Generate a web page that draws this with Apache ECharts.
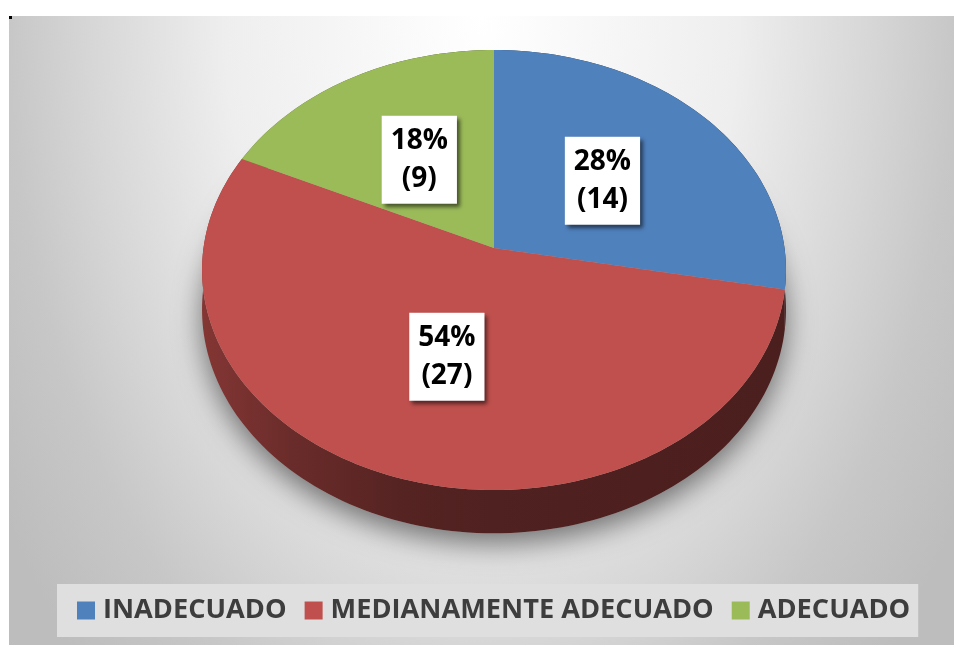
<!DOCTYPE html>
<html>
<head>
<meta charset="UTF-8">
<title>Pastel 3D</title>
<script src="https://cdn.jsdelivr.net/npm/echarts@6/dist/echarts.min.js"></script>
<style>
html, body { margin: 0; padding: 0; background: #ffffff; }
#main { width: 954px; height: 645px; }
</style>
</head>
<body>
<div id="main"></div>
<script>
// datos
var categories = ['INADECUADO', 'MEDIANAMENTE ADECUADO', 'ADECUADO'];
var counts = [14, 27, 9];
var sliceColors = ['#4f81bd', '#c0504d', '#9bbb59'];

var total = 0;
var starts = [];
for (var k = 0; k < counts.length; k++) {
    starts.push(total);
    total += counts[k];
}

// geometria del pastel 3D (perspectiva simple)
var CX = 494, CY = 248, RX = 290.5, RY = 217.8, PERSP = 0.1, DEPTH = 39;

function proj(r, ang, drop) {
    var u = r * Math.sin(ang), v = -r * Math.cos(ang);
    var s = 1 / (1 - PERSP * v);
    return [CX + RX * u * s, CY + RY * v * s + (drop ? DEPTH * s : 0)];
}

function arc(a0, a1, drop) {
    var n = Math.max(2, Math.ceil((a1 - a0) / (2 * Math.PI) * 240));
    var pts = [];
    for (var j = 0; j <= n; j++) {
        pts.push(proj(1, a0 + (a1 - a0) * j / n, drop));
    }
    return pts;
}

function shade(hex, f) {
    var n = parseInt(hex.slice(1), 16);
    var r = Math.round(((n >> 16) & 255) * f);
    var g = Math.round(((n >> 8) & 255) * f);
    var b = Math.round((n & 255) * f);
    return 'rgb(' + r + ',' + g + ',' + b + ')';
}

function renderSlice(params, api) {
    var i = params.seriesIndex;
    var v = api.value(0);
    var a0 = starts[i] / total * Math.PI * 2;
    var a1 = a0 + v / total * Math.PI * 2;
    var col = sliceColors[i];
    var children = [];

    if (i === 0) {
        // sombra bajo el pastel
        children.push({
            type: 'polygon',
            z2: 0,
            shape: { points: arc(0, Math.PI * 2, true) },
            style: {
                fill: '#a8a8a8',
                shadowColor: 'rgba(0,0,0,0.5)',
                shadowBlur: 28,
                shadowOffsetY: 10
            }
        });
    }

    // pared lateral
    var wallPts = arc(a0, a1, false).concat(arc(a0, a1, true).reverse());
    children.push({
        type: 'polygon',
        z2: 1,
        shape: { points: wallPts },
        style: {
            fill: new echarts.graphic.LinearGradient(CX - RX, 0, CX + RX, 0, [
                { offset: 0, color: shade(col, 0.68) },
                { offset: 0.15, color: shade(col, 0.55) },
                { offset: 0.35, color: shade(col, 0.44) },
                { offset: 0.5, color: shade(col, 0.41) },
                { offset: 1, color: shade(col, 0.39) }
            ], true)
        }
    });

    // cara superior
    children.push({
        type: 'polygon',
        z2: 10,
        shape: { points: [proj(0, 0, false)].concat(arc(a0, a1, false)) },
        style: { fill: col }
    });

    // etiqueta
    var mid = (a0 + a1) / 2;
    var lp = proj(0.5, mid, false);
    children.push({
        type: 'text',
        z2: 30,
        x: lp[0],
        y: lp[1],
        style: {
            text: Math.round(v / total * 100) + '%\n(' + v + ')',
            fill: '#000000',
            font: 'bold 28px "Open Sans"',
            align: 'center',
            verticalAlign: 'middle',
            lineHeight: 38,
            backgroundColor: '#ffffff',
            padding: [6, 9, 6, 9],
            shadowColor: 'rgba(0,0,0,0.55)',
            shadowBlur: 4,
            shadowOffsetX: 3,
            shadowOffsetY: 3
        }
    });

    return { type: 'group', children: children };
}

var chart = echarts.init(document.getElementById('main'), null, { renderer: 'canvas' });

var series = [];
for (var i = 0; i < categories.length; i++) {
    series.push({
        type: 'custom',
        name: categories[i],
        coordinateSystem: 'none',
        data: [[counts[i]]],
        itemStyle: { color: sliceColors[i] },
        renderItem: renderSlice
    });
}

var option = {
    animation: false,
    graphic: [
        {
            type: 'rect',
            x: 9,
            y: 16,
            z: -10,
            scaleY: 1.6,
            shape: { width: 945, height: 629 / 1.6 },
            style: {
                fill: new echarts.graphic.RadialGradient(0.5, 0, 1.45, [
                    { offset: 0, color: '#ffffff' },
                    { offset: 0.45, color: '#eeeeee' },
                    { offset: 0.69, color: '#d6d6d6' },
                    { offset: 0.83, color: '#c7c7c7' },
                    { offset: 1, color: '#bdbdbd' }
                ])
            }
        },
        {
            type: 'rect',
            x: 9,
            y: 16,
            z: 5,
            shape: { width: 3, height: 3 },
            style: { fill: '#000000' }
        }
    ],
    legend: {
        left: 57,
        top: 584,
        padding: [13, 8, 13, 20],
        itemWidth: 18,
        itemHeight: 18,
        itemGap: 18,
        icon: 'rect',
        selectedMode: false,
        backgroundColor: '#dfdfdf',
        textStyle: {
            fontFamily: 'Open Sans',
            fontWeight: 'bold',
            fontSize: 27.2,
            color: '#3d3d3d',
            padding: [0, 0, 0, 3]
        },
        data: categories
    },
    series: series
};

chart.setOption(option);
</script>
</body>
</html>
